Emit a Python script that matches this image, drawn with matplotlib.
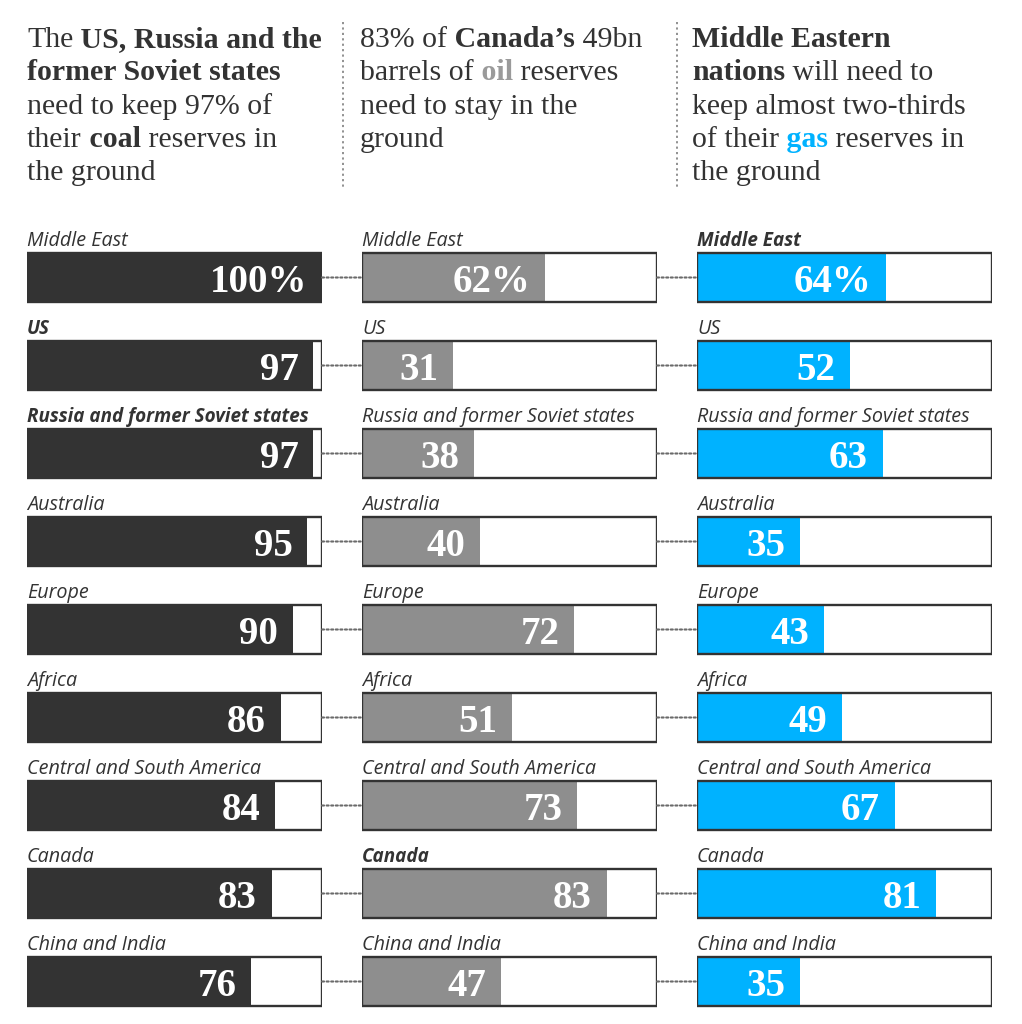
import matplotlib
matplotlib.use("Agg")
import matplotlib.pyplot as plt
from matplotlib.patches import ConnectionPatch
from matplotlib.lines import Line2D
from matplotlib.text import Annotation

# ---------------- data ----------------
regions_coal = ["Middle East", "US", "Russia and former Soviet states", "Australia",
                "Europe", "Africa", "Central and South America", "Canada", "China and India"]
coal_values = [100, 97, 97, 95, 90, 86, 84, 83, 76]

regions_oil = ["Middle East", "US", "Russia and former Soviet states", "Australia",
               "Europe", "Africa", "Central and South America", "Canada", "China and India"]
oil_values = [62, 31, 38, 40, 72, 51, 73, 83, 47]

regions_gas = ["Middle East", "US", "Russia and former Soviet states", "Australia",
               "Europe", "Africa", "Central and South America", "Canada", "China and India"]
gas_values = [64, 52, 63, 35, 43, 49, 67, 81, 35]

coal_highlight = ["US", "Russia and former Soviet states"]
oil_highlight = ["Canada"]
gas_highlight = ["Middle East"]

DARK = "#333333"
COAL = "#333333"
OIL = "#8e8e8e"
GAS = "#00b2ff"

W, H = 1022, 1024
fig = plt.figure(figsize=(W / 100, H / 100), dpi=100)
fig.patch.set_facecolor("white")

panel_left = [27, 362, 697]
panel_w = 295
top_px, bot_px = 200, 1015
row_c0, row_step = 277.5, 88.0
y_top = (top_px - row_c0) / row_step
y_bot = (bot_px - row_c0) / row_step
bar_h = 49 / row_step

panels = [
    (regions_coal, coal_values, COAL, coal_highlight),
    (regions_oil, oil_values, OIL, oil_highlight),
    (regions_gas, gas_values, GAS, gas_highlight),
]

axes = []
for k, (regs, vals, col, hl) in enumerate(panels):
    ax = fig.add_axes([panel_left[k] / W, 1 - bot_px / H, panel_w / W, (bot_px - top_px) / H])
    ax.set_xlim(0, 100)
    ax.set_ylim(y_bot, y_top)
    ax.axis("off")
    ys = list(range(len(regs)))
    ax.barh(ys, [100] * len(ys), height=bar_h, color="white", edgecolor="none", zorder=1)
    ax.barh(ys, vals, height=bar_h, color=col, edgecolor="none", zorder=2)
    ax.barh(ys, [100] * len(ys), height=bar_h, facecolor="none", edgecolor=DARK,
            linewidth=1.7, zorder=3)
    for i, (r, v) in enumerate(zip(regs, vals)):
        is_hl = r in hl
        ax.text(0, i - bar_h / 2 - 7 / row_step, r, ha="left", va="baseline",
                family="Open Sans", style="italic",
                weight="bold" if is_hl else "normal",
                fontsize=13.6 if is_hl else 14.2, color=DARK)
        lab = f"{v}%" if i == 0 else f"{v}"
        ax.text(v - 5.0, i + 14.5 / row_step, lab, ha="right", va="baseline",
                family="Liberation Serif", weight="bold", fontsize=28,
                color="white", zorder=4)
    axes.append(ax)

# dotted connectors between panels
for k in range(2):
    for i in range(len(regions_coal)):
        cp = ConnectionPatch(xyA=(100, i), coordsA=axes[k].transData,
                             xyB=(0, i), coordsB=axes[k + 1].transData,
                             linestyle=(0, (1.0, 1.2)), color="#6a6a6a", lw=1.5)
        fig.add_artist(cp)

# ---------------- header ----------------
n, b = "normal", "bold"
headers = [
    [[("The", n, DARK), (" US, Russia and the", b, DARK)],
     [("former Soviet states", b, DARK)],
     [("need to keep 97% of", n, DARK)],
     [("their", n, DARK), (" coal", b, DARK), (" reserves in", n, DARK)],
     [("the ground", n, DARK)]],
    [[("83% of", n, DARK), (" Canada\u2019s", b, DARK), (" 49bn", n, DARK)],
     [("barrels of", n, DARK), (" oil", b, "#9a9a9a"), (" reserves", n, DARK)],
     [("need to stay in the", n, DARK)],
     [("ground", n, DARK)]],
    [[("Middle Eastern", b, DARK)],
     [("nations", b, DARK), (" will need to", n, DARK)],
     [("keep almost two-thirds", n, DARK)],
     [("of their", n, DARK), (" gas", b, GAS), (" reserves in", n, DARK)],
     [("the ground", n, DARK)]],
]
head_x = [27, 360, 692]
base0, line_step = 47, 33.3
HFS = 21.5

for k, lines in enumerate(headers):
    for j, runs in enumerate(lines):
        yb = 1 - (base0 + j * line_step) / H
        prev = None
        for txt, wt, c in runs:
            if prev is None:
                prev = fig.text(head_x[k] / W, yb, txt, ha="left", va="baseline",
                                family="Liberation Serif", weight=wt, fontsize=HFS, color=c)
            else:
                ann = Annotation(txt, xy=(1, 0), xycoords=prev, va="bottom", ha="left",
                                 family="Liberation Serif", weight=wt, fontsize=HFS, color=c,
                                 annotation_clip=False)
                fig.add_artist(ann)
                prev = ann

# vertical dotted separators in header
for xs in [343, 677]:
    fig.add_artist(Line2D([xs / W, xs / W], [1 - 22 / H, 1 - 187 / H],
                          transform=fig.transFigure, color="#888888",
                          linestyle=(0, (1.2, 1.8)), lw=1.3))

fig.savefig("out.png", dpi=100, facecolor="white")
